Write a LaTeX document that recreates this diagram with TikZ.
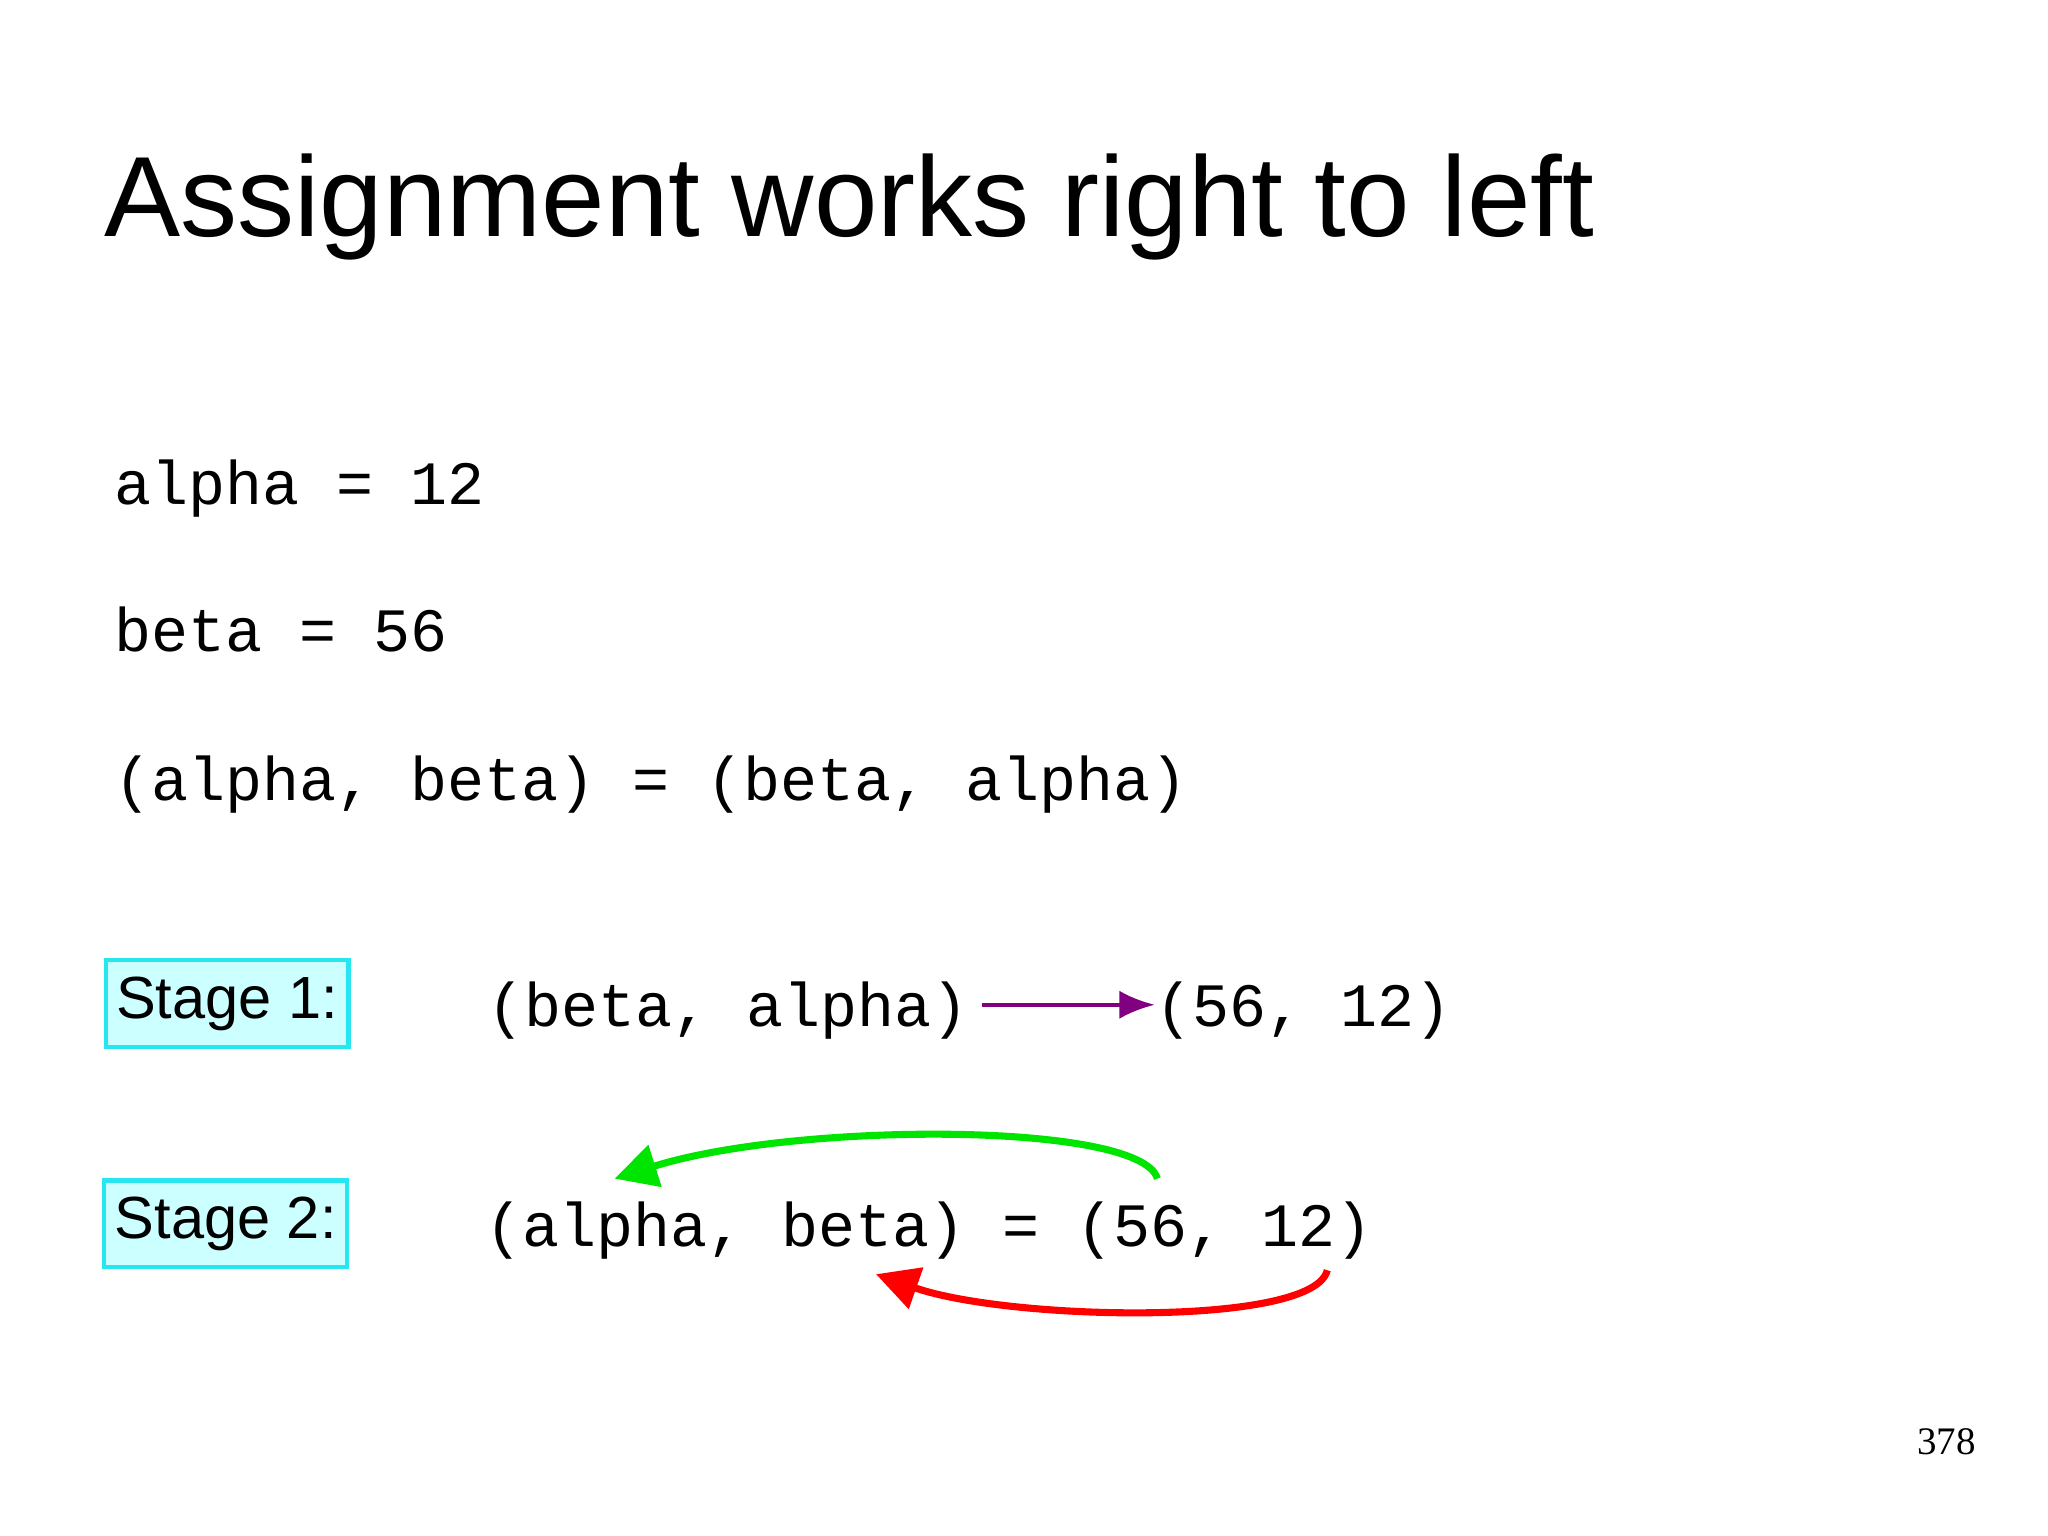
\documentclass[tikz,border=0pt]{standalone}
\usepackage{fontspec}
\setmainfont{Liberation Sans}
\setmonofont{Liberation Mono}
\newfontfamily\seriff{Liberation Serif}
\usetikzlibrary{arrows.meta}
\definecolor{boxline}{RGB}{40,230,240}
\definecolor{boxfill}{RGB}{204,255,255}
\definecolor{purp}{RGB}{128,0,128}
\begin{document}
\begin{tikzpicture}[x=0.01317cm,y=-0.01317cm,
  code/.style={anchor=base west,inner sep=0pt,font=\fontsize{17.4}{20}\selectfont\ttfamily},
  stagebox/.style={draw=boxline,fill=boxfill,line width=1.2pt,inner xsep=3pt,inner ysep=0pt,minimum height=0.86cm,font=\fontsize{16.8}{20}\selectfont},
  arr/.style={line width=2pt,-{Triangle[length=12pt,width=12pt]}}]
\useasboundingbox (0,0) rectangle (1543,1157);
\node[anchor=base west,inner sep=0pt,font=\fontsize{32.2}{36}\selectfont] (title) at (78,178) {Assignment works right to left};
\node[code] (l1) at (86,380) {alpha = 12};
\node[code] (l2) at (86,491) {beta = 56};
\node[code] (l3) at (86,603) {(alpha, beta) = (beta, alpha)};
\node[stagebox,anchor=west] (s1) at (78,756) {Stage 1:};
\node[stagebox,anchor=west] (s2) at (77,922) {Stage 2:};
\node[code] (a1) at (367,773) {(beta, alpha)};
\node[code] (b1) at (870,773) {(56, 12)};
\draw[purp,line width=1.2pt,-{Latex[length=10pt,width=8pt]}] (740,757) coordinate (p1) -- (b1.west|-p1);
\node[code] (a2) at (365,939) {(alpha, beta) = (56, 12)};
\coordinate (g0) at (872,888); \coordinate (g1) at (463,888);
\draw[arr,green!90!black] (g0) .. controls (860,845) and (600,845) .. (g1);
\coordinate (r0) at (1000,957); \coordinate (r1) at (660,960);
\draw[arr,red] (r0) .. controls (990,1000) and (760,995) .. (r1);
\node[anchor=base east,inner sep=0pt,font=\seriff\fontsize{11}{13}\selectfont] (pg) at (1489,1096) {378};
\end{tikzpicture}
\end{document}
